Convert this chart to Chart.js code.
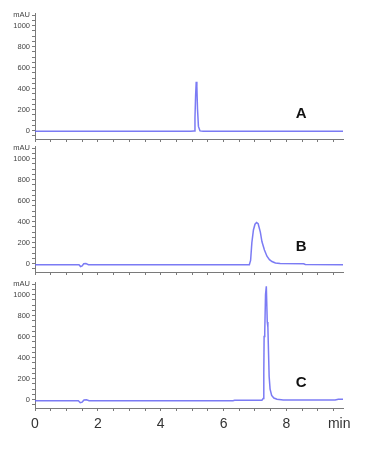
<!DOCTYPE html>
<html>
<head>
<meta charset="utf-8">
<script src="https://cdn.jsdelivr.net/npm/chart.js@4"></script>
<style>
  body { margin: 0; background: #fff; }
  #wrap { position: relative; width: 366px; height: 454px; }
  canvas { position: absolute; left: 0; }
</style>
</head>
<body>
<div id="wrap">
  <canvas id="panel-a" width="366" height="146" style="top:0px"></canvas>
  <canvas id="panel-b" width="366" height="146" style="top:133px"></canvas>
  <canvas id="panel-c" width="366" height="185" style="top:269px"></canvas>
</div>
<script>
// retention time (min) and absorbance (mAU)
const timesA  = [0, 1.5, 4.95, 5.06, 5.09, 5.11, 5.13, 5.15, 5.17, 5.2, 5.25, 5.35, 9.8];
const valuesA = [-7, -7, -7, -4, 120, 330, 465, 420, 210, 40, -3, -7, -7];

const timesB  = [0, 1.4, 1.45, 1.5, 1.55, 1.62, 1.7, 6.82, 6.86, 6.9, 6.95, 7.0, 7.05, 7.1, 7.17, 7.22, 7.3, 7.38, 7.46, 7.54, 7.65, 7.8, 8.55, 8.6, 9.8];
const valuesB = [-10, -10, -28, -22, -2, 0, -10, -10, 30, 200, 320, 375, 392, 380, 300, 210, 130, 70, 38, 20, 6, 0, -2, -9, -10];

const timesC  = [0, 1.38, 1.44, 1.5, 1.56, 1.64, 1.72, 6.3, 6.35, 7.22, 7.26, 7.28, 7.29, 7.31, 7.335, 7.36, 7.39, 7.41, 7.43, 7.45, 7.48, 7.53, 7.6, 7.7, 7.9, 9.55, 9.65, 9.8];
const valuesC = [-10, -10, -30, -24, -4, -2, -10, -10, -6, -6, 10, 250, 600, 640, 1000, 1080, 740, 690, 450, 220, 100, 40, 15, 3, -4, -4, 4, 4];

const yTickLabels = [0, 200, 400, 600, 800, 1000];
const xTickLabels = [0, 2, 4, 6, 8];
const panelLabels = ["A", "B", "C"];

const lineColor = "rgba(100, 100, 242, 0.85)";
const axisColor = "#7a7a7a";

function toPoints(xs, ys) { return xs.map((x, i) => ({ x: x, y: ys[i] })); }

function makePanel(id, times, values, label, showX, xHeight) {
    const labelPlugin = {
        id: "panelLabel",
        afterDatasetsDraw(chart) {
            const c = chart.ctx;
            c.save();
            c.font = "bold 15px 'Liberation Sans', Arial, sans-serif";
            c.fillStyle = "#111";
            c.textAlign = "center";
            c.textBaseline = "middle";
            c.fillText(label, chart.scales.x.getPixelForValue(8.47), chart.scales.y.getPixelForValue(160));
            c.restore();
        }
    };

    new Chart(document.getElementById(id).getContext("2d"), {
        type: "line",
        data: {
            datasets: [{
                data: toPoints(times, values),
                borderColor: lineColor,
                borderWidth: 1.5,
                pointRadius: 0,
                tension: 0,
                fill: false,
            }],
        },
        options: {
            responsive: false,
            animation: false,
            layout: { padding: { top: 13, right: 23, left: 0, bottom: 0 } },
            plugins: { legend: { display: false }, tooltip: { enabled: false } },
            scales: {
                x: {
                    type: "linear",
                    min: 0,
                    max: 9.8,
                    afterFit: (s) => { s.height = xHeight; },
                    afterBuildTicks: (s) => {
                        const t = [];
                        for (let v = 0; v <= 9.5; v += 0.5) t.push({ value: v });
                        if (showX) t.push({ value: 9.68 });
                        s.ticks = t;
                    },
                    border: { display: true, color: axisColor, width: 1 },
                    grid: {
                        drawOnChartArea: false,
                        tickLength: 3,
                        tickColor: (ctx) => (ctx.tick && ctx.tick.value === 9.68) ? "rgba(0,0,0,0)" : axisColor,
                    },
                    ticks: {
                        display: showX,
                        autoSkip: false,
                        maxRotation: 0,
                        padding: 5,
                        color: "#333",
                        font: { family: "'Liberation Sans', Arial, sans-serif", size: 14 },
                        callback: (v) => {
                            if (v === 9.68) return "min";
                            return xTickLabels.includes(v) ? String(v) : "";
                        },
                    },
                },
                y: {
                    min: -80,
                    max: 1120,
                    afterFit: (s) => { s.width = 35; },
                    afterBuildTicks: (s) => {
                        const t = [];
                        for (let v = -50; v <= 1100; v += 50) t.push({ value: v });
                        s.ticks = t;
                    },
                    border: { display: true, color: axisColor, width: 1 },
                    grid: { drawOnChartArea: false, tickLength: 3, tickColor: axisColor },
                    ticks: {
                        autoSkip: false,
                        padding: 2,
                        color: "#444",
                        font: { family: "'Liberation Sans', Arial, sans-serif", size: 7.5 },
                        callback: (v) => {
                            if (v === 1100) return "mAU";
                            return yTickLabels.includes(v) ? String(v) : "";
                        },
                    },
                },
            },
        },
        plugins: [labelPlugin],
    });
}

makePanel("panel-a", timesA, valuesA, panelLabels[0], false, 7);
makePanel("panel-b", timesB, valuesB, panelLabels[1], false, 7);
makePanel("panel-c", timesC, valuesC, panelLabels[2], true, 46);
</script>
</body>
</html>
